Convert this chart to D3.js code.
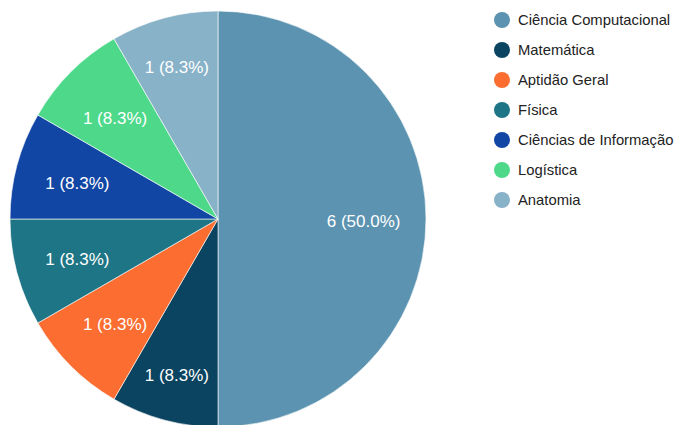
<!DOCTYPE html>
<html>
<head>
<meta charset="utf-8">
<script src="https://cdn.jsdelivr.net/npm/d3@7"></script>
<style>
  html, body { margin: 0; padding: 0; background: #fff; }
  svg { display: block; font-family: "Liberation Sans", Arial, sans-serif; }
</style>
</head>
<body>
<svg id="chart" width="676" height="425"></svg>
<script>
// Areas of study and number of responses for each
const categories = ["Ciência Computacional", "Matemática", "Aptidão Geral", "Física",
                    "Ciências de Informação", "Logística", "Anatomia"];
const counts = [6, 1, 1, 1, 1, 1, 1];
const colors = ["#5b93b0", "#0b4461", "#fb6d30", "#1e7585", "#1246a4", "#4ed98a", "#88b2c7"];

const svg = d3.select("#chart");
const cx = 218, cy = 219, radius = 208;
const total = d3.sum(counts);

const pie = d3.pie().sort(null).value(d => d.value);
const arcs = pie(categories.map((c, i) => ({ name: c, value: counts[i], color: colors[i] })));
const arc = d3.arc().innerRadius(0).outerRadius(radius);

const g = svg.append("g").attr("transform", `translate(${cx},${cy})`);

g.selectAll("path.slice")
  .data(arcs)
  .join("path")
  .attr("class", "slice")
  .attr("d", arc)
  .attr("fill", d => d.data.color)
  .attr("stroke", "#ffffff")
  .attr("stroke-width", 0.6);

// Slice labels: start at 0.7r along the bisector and move outward until the
// text line clears both slice edges by a small margin.
const fontSize = 17;
const fmt = d => `${d.value} (${(d.value / total * 100).toFixed(1)}%)`;

const labels = g.selectAll("text.lbl")
  .data(arcs)
  .join("text")
  .attr("class", "lbl")
  .attr("fill", "#ffffff")
  .attr("font-size", fontSize)
  .attr("text-anchor", "middle")
  .attr("dominant-baseline", "central")
  .text(d => fmt(d.data));

labels.each(function(d) {
  const w = this.getComputedTextLength();
  const mid = (d.startAngle + d.endAngle) / 2;
  const pad = 9;
  const edgeDist = (x, y, a) => Math.abs(x * (-Math.cos(a)) - y * Math.sin(a));
  let r = radius * 0.7;
  if (d.endAngle - d.startAngle < Math.PI) {
    for (; r < radius * 0.85; r += 0.5) {
      const x = Math.sin(mid) * r, y = -Math.cos(mid) * r;
      const ends = [[x - w / 2, y], [x + w / 2, y]];
      const ok = ends.every(([px, py]) =>
        edgeDist(px, py, d.startAngle) >= pad && edgeDist(px, py, d.endAngle) >= pad);
      if (ok) break;
    }
  }
  d3.select(this)
    .attr("x", Math.sin(mid) * r)
    .attr("y", -Math.cos(mid) * r + 2.5);
});

// Legend
const legend = svg.append("g").attr("transform", "translate(502,20)");
const rows = legend.selectAll("g.row")
  .data(arcs)
  .join("g")
  .attr("class", "row")
  .attr("transform", (d, i) => `translate(0,${i * 30})`);

rows.append("circle")
  .attr("r", 8)
  .attr("fill", d => d.data.color);

rows.append("text")
  .attr("x", 16)
  .attr("dominant-baseline", "central")
  .attr("font-size", 14.8)
  .attr("fill", "#222222")
  .text(d => d.data.name);
</script>
</body>
</html>
